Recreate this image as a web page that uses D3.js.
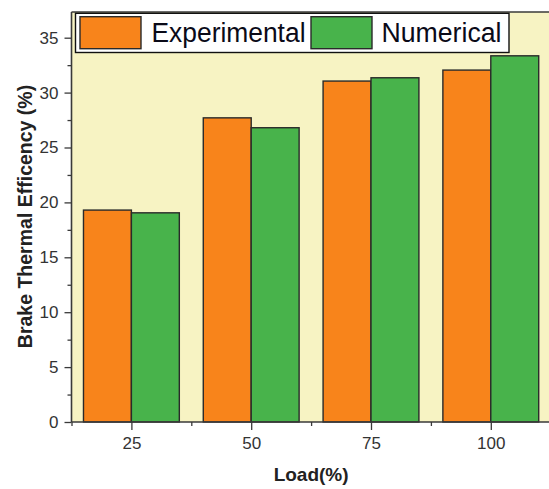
<!DOCTYPE html>
<html>
<head>
<meta charset="utf-8">
<script src="https://cdn.jsdelivr.net/npm/d3@7"></script>
<style>
  html, body { margin: 0; padding: 0; background: #ffffff; overflow: hidden; }
  svg { display: block; }
  text { font-family: "Liberation Sans", Arial, sans-serif; }
</style>
</head>
<body>
<svg id="chart" width="549" height="489"></svg>
<script>
// ---- data ----
const loads = [25, 50, 75, 100];
const experimental = [19.3, 27.7, 31.05, 32.05];
const numerical = [19.05, 26.8, 31.35, 33.35];
const seriesNames = ["Experimental", "Numerical"];
const seriesColors = ["#F8841B", "#48B34B"];
const yMajorTicks = [0, 5, 10, 15, 20, 25, 30, 35];
const yMinorTicks = [2.5, 7.5, 12.5, 17.5, 22.5, 27.5, 32.5];
const xMajorTicks = [25, 50, 75, 100];
const xMinorTicks = [12.5, 37.5, 62.5, 87.5];
const xTitle = "Load(%)";
const yTitle = "Brake Thermal Efficency (%)";

// ---- layout ----
const svg = d3.select("#chart");
const plot = { left: 71.5, right: 550.7, top: 12, bottom: 422 };
const x = d3.scaleLinear().domain([12.5, 112.5]).range([plot.left, plot.right]);
const y = d3.scaleLinear().domain([0, 37.34]).range([plot.bottom, plot.top]);
const barHalf = 10; // bar width in x-units
const axisColor = "#3a3a3a";

// background
svg.append("rect")
  .attr("x", plot.left).attr("y", plot.top)
  .attr("width", plot.right - plot.left).attr("height", plot.bottom - plot.top)
  .attr("fill", "#F7F3C3");

// bars
const series = [experimental, numerical];
series.forEach((vals, si) => {
  svg.append("g").selectAll("rect")
    .data(loads.map((l, i) => ({ l, v: vals[i] })))
    .join("rect")
    .attr("x", d => si === 0 ? x(d.l - barHalf) : x(d.l))
    .attr("width", d => x(d.l + barHalf) - x(d.l))
    .attr("y", d => y(d.v))
    .attr("height", d => y(0) - y(d.v))
    .attr("fill", seriesColors[si])
    .attr("stroke", "#2a2a2a")
    .attr("stroke-width", 1.4);
});

// y axis major
const yAxis = svg.append("g").attr("transform", `translate(${plot.left},0)`)
  .call(d3.axisLeft(y).tickValues(yMajorTicks).tickSize(7).tickSizeOuter(0).tickPadding(6));
yAxis.select(".domain").remove();
yAxis.selectAll("line").attr("stroke", axisColor).attr("stroke-width", 1.3);
yAxis.selectAll("text").attr("font-size", 17).attr("fill", "#333")
  .attr("font-family", "'Liberation Sans', Arial, sans-serif");
// y axis minor
const yMinor = svg.append("g").attr("transform", `translate(${plot.left},0)`)
  .call(d3.axisLeft(y).tickValues(yMinorTicks).tickSize(4).tickSizeOuter(0).tickFormat(""));
yMinor.select(".domain").remove();
yMinor.selectAll("line").attr("stroke", axisColor).attr("stroke-width", 1.3);

// x axis major
const xAxis = svg.append("g").attr("transform", `translate(0,${plot.bottom})`)
  .call(d3.axisBottom(x).tickValues(xMajorTicks).tickSize(8).tickSizeOuter(0).tickPadding(7));
xAxis.select(".domain").remove();
xAxis.selectAll("line").attr("stroke", axisColor).attr("stroke-width", 1.3);
xAxis.selectAll("text").attr("font-size", 17).attr("fill", "#333")
  .attr("font-family", "'Liberation Sans', Arial, sans-serif");
// x axis minor
const xMinor = svg.append("g").attr("transform", `translate(0,${plot.bottom})`)
  .call(d3.axisBottom(x).tickValues(xMinorTicks).tickSize(4).tickSizeOuter(0).tickFormat(""));
xMinor.select(".domain").remove();
xMinor.selectAll("line").attr("stroke", axisColor).attr("stroke-width", 1.3);

// axis frame lines (left, bottom, top)
svg.append("line").attr("x1", plot.left).attr("x2", plot.left).attr("y1", plot.top).attr("y2", plot.bottom)
  .attr("stroke", axisColor).attr("stroke-width", 1.6);
svg.append("line").attr("x1", plot.left).attr("x2", plot.right).attr("y1", plot.bottom).attr("y2", plot.bottom)
  .attr("stroke", axisColor).attr("stroke-width", 1.6);
svg.append("line").attr("x1", plot.left).attr("x2", plot.right).attr("y1", plot.top).attr("y2", plot.top)
  .attr("stroke", axisColor).attr("stroke-width", 1.6);

// axis titles
svg.append("text")
  .attr("x", (plot.left + plot.right) / 2).attr("y", 481)
  .attr("text-anchor", "middle").attr("font-size", 19).attr("font-weight", "bold").attr("fill", "#222")
  .text(xTitle);
svg.append("text")
  .attr("transform", `translate(32,216.5) rotate(-90)`)
  .attr("text-anchor", "middle").attr("font-size", 19.5).attr("font-weight", "bold").attr("fill", "#222")
  .text(yTitle);

// legend
const legend = svg.append("g");
legend.append("rect")
  .attr("x", 75.5).attr("y", 13.3).attr("width", 433.5).attr("height", 39.2)
  .attr("fill", "#ffffff").attr("stroke", "#111").attr("stroke-width", 1.4);
const legendItems = [
  { name: seriesNames[0], color: seriesColors[0], sx: 80, tx: 151.5, tw: 154 },
  { name: seriesNames[1], color: seriesColors[1], sx: 311, tx: 381.5, tw: 120 }
];
legendItems.forEach(it => {
  legend.append("rect")
    .attr("x", it.sx).attr("y", 16.7).attr("width", 61).attr("height", 32)
    .attr("fill", it.color).attr("stroke", "#2a2a2a").attr("stroke-width", 1.4);
  legend.append("text")
    .attr("x", it.tx).attr("y", 42)
    .attr("font-size", 27).attr("fill", "#0a0a18")
    .attr("textLength", it.tw).attr("lengthAdjust", "spacingAndGlyphs")
    .text(it.name);
});
</script>
</body>
</html>
